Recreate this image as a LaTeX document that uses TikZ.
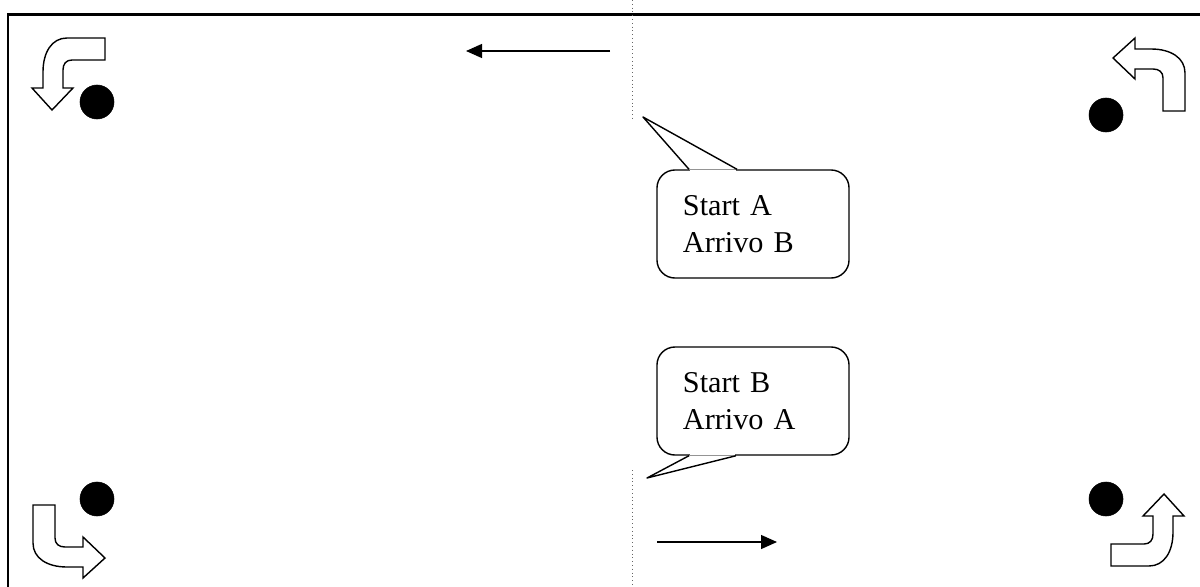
\documentclass[tikz,border=0pt]{standalone}
\usepackage{fontspec}
\setmainfont{Liberation Serif}
\usepackage{tikz}
\usetikzlibrary{positioning}
\usetikzlibrary{arrows.meta}
\tikzstyle{frame} = [draw, line width=2.1pt]
\tikzstyle{spot} = [draw, fill=black, circle, minimum size=0.85cm, inner sep=0pt]
\tikzstyle{divide} = [draw=gray!80!black, dotted, line width=0.7pt]
\tikzstyle{run} = [draw, line width=0.9pt, -{Triangle[length=0.4cm, width=0.35cm]}]
\tikzstyle{bubble} = [draw, line width=1pt, rounded corners=0.45cm, minimum width=4.8cm, minimum height=2.7cm, text width=3.5cm, inner xsep=0pt, align=left, font=\fontsize{21.5}{26.5}\selectfont]
\tikzstyle{tail} = [draw, line width=1pt, fill=white, line join=miter]
\tikzset{turn/.pic={
    \draw [tail] (0,0) -- (-20,-22) -- (-9,-22) -- (-9,-38)
      .. controls (-9,-58) and (0,-72) .. (15,-72) -- (53,-72) -- (53,-50) -- (20,-50)
      .. controls (14,-50) and (11,-46) .. (11,-40) -- (11,-22) -- (21,-22) -- cycle;
}}

\begin{document}
\begin{tikzpicture}[x=0.025cm,y=-0.025cm]
    \useasboundingbox (0,0) rectangle (1200,586);
    \draw [frame] (8,600) -- (8,14.5) -- (1210,14.5); % border

    \coordinate (midtop) at (632,0);
    \coordinate (midtopend) at (632,118);
    \coordinate (midbot) at (632,470);
    \coordinate (midbotend) at (632,586);
    \draw [divide] (midtop) -- (midtopend);
    \draw [divide] (midbot) -- (midbotend);

    \coordinate (runA) at (610,51);
    \coordinate (runAend) at (466,51);
    \coordinate (runB) at (657,542);
    \coordinate (runBend) at (777,542);
    \draw [run] (runA) -- (runAend);
    \draw [run] (runB) -- (runBend);

    \node [spot] (dotNW) at (97,102) {};
    \node [spot] (dotNE) at (1106,115) {};
    \node [spot] (dotSW) at (97,499) {};
    \node [spot] (dotSE) at (1106,499) {};

    \pic (turnNW) at (52,110) {turn};
    \pic [rotate=-90] (turnNE) at (1113,58) {turn};
    \pic [rotate=90] (turnSW) at (105,558) {turn};
    \pic [rotate=180] (turnSE) at (1164,494) {turn};

    \node [bubble] (callA) at (753,224) {Start A\\Arrivo B};
    \node [bubble] (callB) at (753,401) {Start B\\Arrivo A};
    \coordinate (tipA) at (643,117);
    \coordinate (tipB) at (647,478);

    \draw [tail, line join=round] ([xshift=-64*0.025cm]callA.north) -- (tipA) -- ([xshift=-16*0.025cm]callA.north);
    \fill [white] ([xshift=-63*0.025cm,yshift=-0.02cm]callA.north) rectangle ([xshift=-17*0.025cm,yshift=-0.06cm]callA.north);
    \draw [tail, line join=round] ([xshift=-64*0.025cm]callB.south) -- (tipB) -- ([xshift=-17*0.025cm]callB.south);
    \fill [white] ([xshift=-63*0.025cm,yshift=0.02cm]callB.south) rectangle ([xshift=-18*0.025cm,yshift=0.06cm]callB.south);
\end{tikzpicture}
\end{document}
